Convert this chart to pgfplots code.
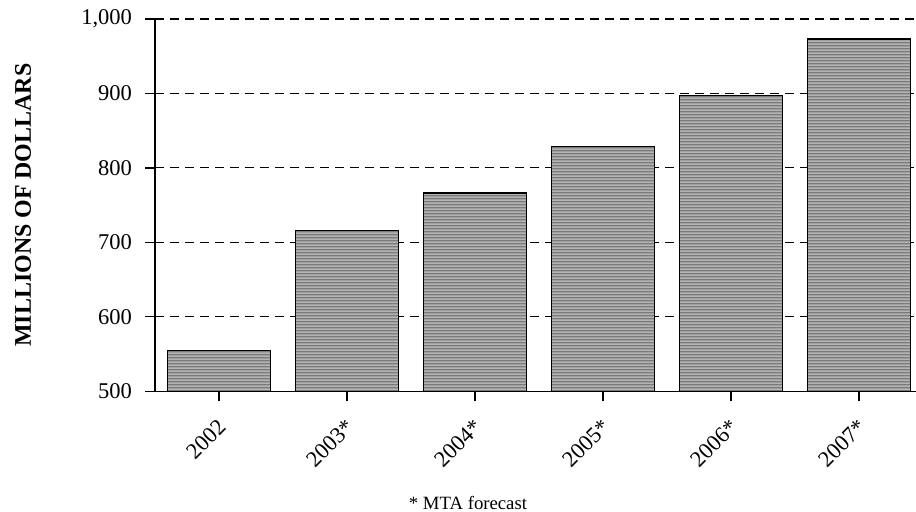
\documentclass[border=0pt]{standalone}
\usepackage{fontspec}
\setmainfont{Liberation Serif}
\usepackage{pgfplots}
\pgfplotsset{compat=1.18}
\usetikzlibrary{patterns}

\definecolor{barbase}{RGB}{122,122,122}
\definecolor{barstripe}{RGB}{180,180,180}

% wide horizontal stripes, one tile per 1.5bp of height
\pgfdeclarepatternformonly{hstripes}{\pgfpointorigin}{\pgfpoint{200bp}{1.5bp}}%
  {\pgfpoint{200bp}{1.5bp}}{%
  \pgfpathrectangle{\pgfpointorigin}{\pgfpoint{200bp}{0.75bp}}%
  \pgfusepath{fill}}

\begin{document}
\begin{tikzpicture}
\useasboundingbox (-77.5bp,-60.35bp) rectangle (380.5bp,195.65bp);
\begin{axis}[
  at={(0,0)}, anchor=south west,
  scale only axis, width=380.5bp, height=186.15bp,
  xmin=-0.5, xmax=5.445, ymin=500, ymax=1000,
  axis lines*=left,
  axis line style={black, line width=0.8bp},
  ytick={500,600,...,1000},
  xtick={0,1,2,3,4,5},
  xticklabels={2002,2003*,2004*,2005*,2006*,2007*},
  tick align=outside, major tick length=5bp,
  tick style={black, line width=0.6bp},
  ymajorgrids,
  grid style={black, dash pattern=on 4.5bp off 3bp, line width=0.55bp},
  /pgf/number format/assume math mode=true,
  yticklabel style={/pgf/number format/1000 sep={,}, xshift=-3bp,
    font=\fontsize{11.3}{13}\selectfont},
  % shifts are given in the rotated frame of the label
  xticklabel style={rotate=45, anchor=north east, xshift=-3.27bp, yshift=-1.73bp,
    font=\fontsize{11.3}{13}\selectfont},
  ylabel={\textbf{MILLIONS OF DOLLARS}},
  ylabel style={at={(axis description cs:-0.1735,0.5)}, anchor=center,
    font=\fontsize{12}{14}\selectfont},
  clip=false,
]
\addplot[ybar, bar width=51.5bp, draw=black, line width=0.75bp,
  fill=barbase,
  postaction={pattern=hstripes, pattern color=barstripe}]
  coordinates {(0,555) (1,716) (2,766) (3,829) (4,897) (5,973)};
\end{axis}
\node[font=\fontsize{9.4}{11}\selectfont] at (156.5bp,-55.85bp) {* MTA forecast};
\end{tikzpicture}
\end{document}
